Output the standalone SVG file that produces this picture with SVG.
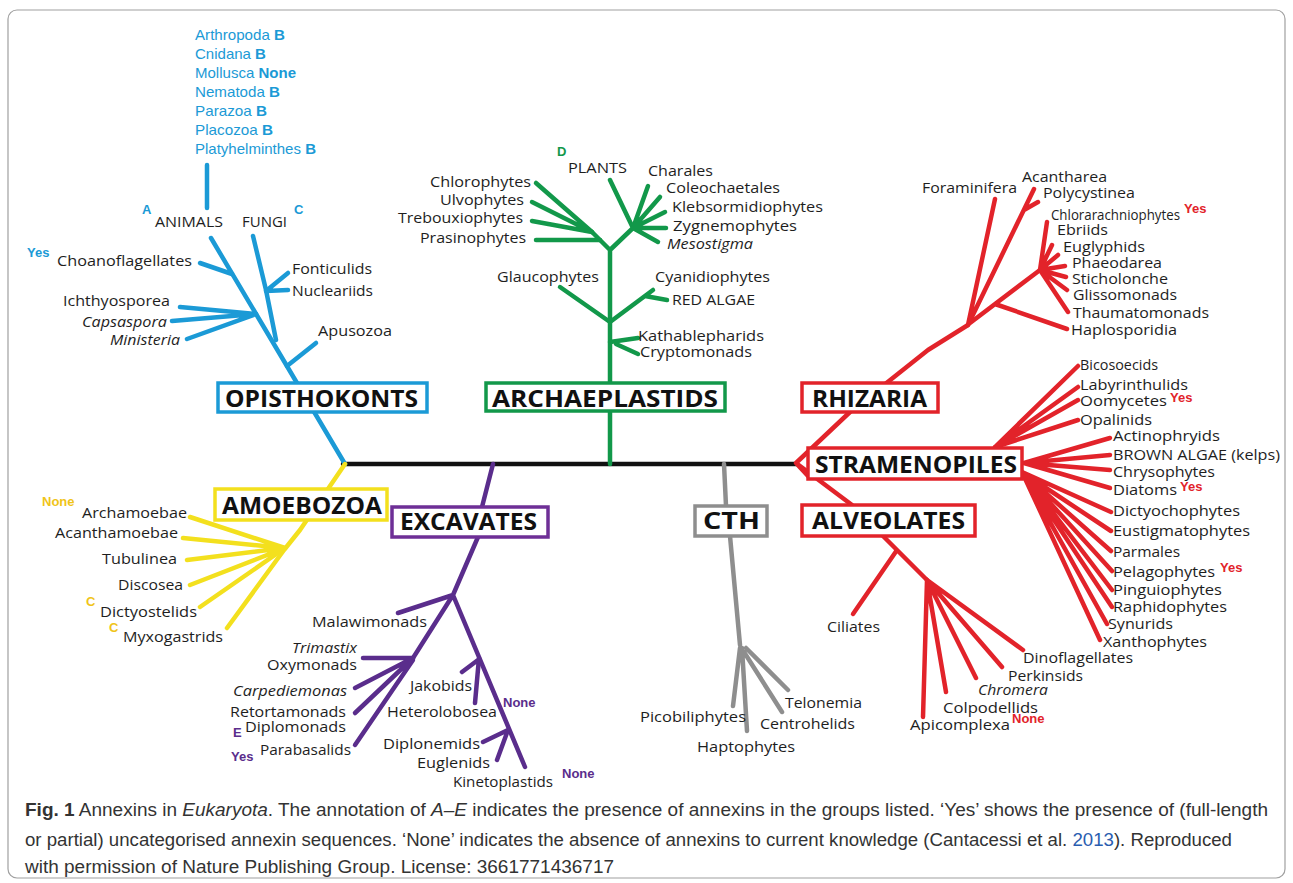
<svg xmlns="http://www.w3.org/2000/svg" width="1293" height="883" viewBox="0 0 1293 883">
<style>
.t{font-family:"Open Sans","Liberation Sans",sans-serif;font-size:14.5px;fill:#1e1e1e}
.i{font-style:italic}
.lst{font-family:"Liberation Sans",Arial,sans-serif;font-size:14.5px;fill:#1b9ad6}
.sup{font-family:"Liberation Sans",Arial,sans-serif;font-size:13px;font-weight:bold}
.bx{font-family:"Open Sans","Liberation Sans",sans-serif;font-size:24px;font-weight:700;fill:#111}
.box{fill:#fff;stroke-width:3.5}
.l{fill:none;stroke-width:4.5;stroke-linecap:round;stroke-linejoin:round}
.blue{stroke:#1b9ad6}.green{stroke:#12984a}.red{stroke:#e2232a}.yel{stroke:#f3e01e}.pur{stroke:#5a2d8c}.gry{stroke:#8e8e8e}.blk{stroke:#111}
.fb{fill:#1b9ad6}.fg{fill:#12984a}.fr{fill:#e2232a}.fy{fill:#f0c419}.fp{fill:#5a2d8c}
.cap{font-family:"Liberation Sans",Arial,sans-serif;font-size:17.5px;fill:#333}
</style>
<rect x="8" y="10" width="1277" height="868" rx="9" fill="#fff" stroke="#a0a0a0" stroke-width="1.2"/>

<g id="connectors">
  <path class="l blk" d="M343 464 H797"/>
  <path class="l blue" d="M207 165 V208"/>
  <path class="l blue" d="M211 238 L345 464"/>
  <path class="l blue" d="M253 236 L266 290 L276 340"/>
  <path class="l blue" d="M266 291 L288 273 M266 291 L288 290"/>
  <path class="l blue" d="M200 263 L232 274"/>
  <path class="l blue" d="M180 307 L256 314 M172 321 L256 314 M187 339 L256 314"/>
  <path class="l blue" d="M287 366 L316 343"/>
  <path class="l green" d="M610 464 V250 L592 232 M610 250 L633 228 L610 180"/>
  <path class="l green" d="M592 232 L536 183 M592 232 L532 202 M592 232 L532 221 M600 240 L536 240"/>
  <path class="l green" d="M633 228 L648 186 M633 228 L660 197 M633 228 L665 212 M633 228 L666 228 M633 228 L658 242"/>
  <path class="l green" d="M560 287 L610 322 L653 290 M645 296 L667 300"/>
  <path class="l green" d="M610 342 L638 338 M616 344 L638 354"/>
  <path class="l red" d="M796 463 L850 412 L928 350 L968 325 M796 463 L808 476 M796 463 L852 505"/>
  <path class="l red" d="M968 325 L995 199 M968 325 L1034 189 M1024 210 L1038 202"/>
  <path class="l red" d="M970 323 L1040 270 M995 304 L1067 329"/>
  <path class="l red" d="M1040 270 L1047 222 M1040 270 L1052 245 M1040 270 L1058 255 M1040 270 L1065 266 M1040 270 L1066 277 M1040 270 L1067 290 M1040 270 L1068 312"/>
  <path class="l red" d="M995 447 L1078 366 M995 447 L1078 387 M995 447 L1078 400 M995 447 L1078 420"/>
  <path class="l red" d="M1024 463 L1110 438 M1024 463 L1110 455 M1024 463 L1110 470 M1024 463 L1110 488"/>
  <path class="l red" d="M1022 472 L1111 512 M1022 472 L1111 531 M1022 472 L1111 551 M1022 472 L1112 571 M1022 472 L1112 590 M1022 472 L1112 607 M1022 472 L1107 624 M1022 472 L1100 640"/>
  <path class="l red" d="M883 536 L927 580 M897 550 L853 614"/>
  <path class="l red" d="M927 580 L923 717 M927 580 L946 692 M927 580 L976 678 M927 580 L1002 667 M927 580 L1023 650"/>
  <path class="l yel" d="M345 464 L300 530 L284 550 L227 628"/>
  <path class="l yel" d="M285 548 L190 517 M285 548 L183 538 M285 548 L187 560 M285 548 L190 585 M285 548 L200 607"/>
  <path class="l pur" d="M493 464 L482 507 M478 537 L453 595 L398 613 M453 595 L413 658 M453 595 L525 767"/>
  <path class="l pur" d="M413 658 L363 658 M413 658 L355 688 M413 658 L355 713 M413 660 L355 745"/>
  <path class="l pur" d="M479 658 L475 703 M478 660 L462 672 M508 730 L483 742 M508 730 L497 760"/>
  <path class="l gry" d="M724 464 L726 506 M730 536 L740 645"/>
  <path class="l gry" d="M740 648 L733 706 M742 648 L747 731 M744 652 L782 712 M746 648 L788 690"/>
</g>

<g id="animals-list">
  <text class="lst" x="195" y="40" textLength="90" lengthAdjust="spacingAndGlyphs">Arthropoda <tspan font-weight="bold">B</tspan></text>
  <text class="lst" x="195" y="59" textLength="71" lengthAdjust="spacingAndGlyphs">Cnidana <tspan font-weight="bold">B</tspan></text>
  <text class="lst" x="195" y="78" textLength="101" lengthAdjust="spacingAndGlyphs">Mollusca <tspan font-weight="bold">None</tspan></text>
  <text class="lst" x="195" y="97" textLength="85" lengthAdjust="spacingAndGlyphs">Nematoda <tspan font-weight="bold">B</tspan></text>
  <text class="lst" x="195" y="116" textLength="72" lengthAdjust="spacingAndGlyphs">Parazoa <tspan font-weight="bold">B</tspan></text>
  <text class="lst" x="195" y="135" textLength="78" lengthAdjust="spacingAndGlyphs">Placozoa <tspan font-weight="bold">B</tspan></text>
  <text class="lst" x="195" y="154" textLength="121" lengthAdjust="spacingAndGlyphs">Platyhelminthes <tspan font-weight="bold">B</tspan></text>
</g>

<g id="opisthokonts">
  <rect class="box blue" x="218" y="383" width="209" height="29"/>
  <text class="bx" x="225" y="407" textLength="193" lengthAdjust="spacingAndGlyphs">OPISTHOKONTS</text>
  <text class="sup fb" x="142" y="214" font-size="14">A</text>
  <text class="t" x="155" y="227" textLength="68" lengthAdjust="spacingAndGlyphs">ANIMALS</text>
  <text class="t" x="242" y="227" textLength="45" lengthAdjust="spacingAndGlyphs">FUNGI</text>
  <text class="sup fb" x="294" y="214" font-size="14">C</text>
  <text class="sup fb" x="27" y="257">Yes</text>
  <text class="t" x="57" y="266" textLength="135" lengthAdjust="spacingAndGlyphs">Choanoflagellates</text>
  <text class="t" x="292" y="274" textLength="80" lengthAdjust="spacingAndGlyphs">Fonticulids</text>
  <text class="t" x="292" y="296" textLength="81" lengthAdjust="spacingAndGlyphs">Nucleariids</text>
  <text class="t" x="63" y="306" textLength="107" lengthAdjust="spacingAndGlyphs">Ichthyosporea</text>
  <text class="t i" x="82" y="327" textLength="85" lengthAdjust="spacingAndGlyphs">Capsaspora</text>
  <text class="t i" x="110" y="345" textLength="70" lengthAdjust="spacingAndGlyphs">Ministeria</text>
  <text class="t" x="318" y="336" textLength="74" lengthAdjust="spacingAndGlyphs">Apusozoa</text>
</g>

<g id="archaeplastids">
  <rect class="box green" x="486" y="383" width="239" height="28"/>
  <text class="bx" x="492" y="407" textLength="226" lengthAdjust="spacingAndGlyphs">ARCHAEPLASTIDS</text>
  <text class="sup fg" x="557" y="156" font-size="14">D</text>
  <text class="t" x="568" y="173" textLength="59" lengthAdjust="spacingAndGlyphs">PLANTS</text>
  <text class="t" x="430" y="187" textLength="101" lengthAdjust="spacingAndGlyphs">Chlorophytes</text>
  <text class="t" x="440" y="205" textLength="84" lengthAdjust="spacingAndGlyphs">Ulvophytes</text>
  <text class="t" x="398" y="223" textLength="125" lengthAdjust="spacingAndGlyphs">Trebouxiophytes</text>
  <text class="t" x="420" y="243" textLength="106" lengthAdjust="spacingAndGlyphs">Prasinophytes</text>
  <text class="t" x="648" y="176" textLength="65" lengthAdjust="spacingAndGlyphs">Charales</text>
  <text class="t" x="666" y="193" textLength="114" lengthAdjust="spacingAndGlyphs">Coleochaetales</text>
  <text class="t" x="672" y="212" textLength="151" lengthAdjust="spacingAndGlyphs">Klebsormidiophytes</text>
  <text class="t" x="673" y="231" textLength="124" lengthAdjust="spacingAndGlyphs">Zygnemophytes</text>
  <text class="t i" x="667" y="249" textLength="86" lengthAdjust="spacingAndGlyphs">Mesostigma</text>
  <text class="t" x="497" y="282" textLength="102" lengthAdjust="spacingAndGlyphs">Glaucophytes</text>
  <text class="t" x="655" y="282" textLength="115" lengthAdjust="spacingAndGlyphs">Cyanidiophytes</text>
  <text class="t" x="672" y="305" textLength="83" lengthAdjust="spacingAndGlyphs">RED ALGAE</text>
  <text class="t" x="638" y="341" textLength="126" lengthAdjust="spacingAndGlyphs">Kathablepharids</text>
  <text class="t" x="640" y="357" textLength="112" lengthAdjust="spacingAndGlyphs">Cryptomonads</text>
</g>

<g id="rhizaria">
  <rect class="box red" x="802" y="383" width="136" height="29"/>
  <text class="bx" x="812" y="407" textLength="115" lengthAdjust="spacingAndGlyphs">RHIZARIA</text>
  <text class="t" x="922" y="193" textLength="95" lengthAdjust="spacingAndGlyphs">Foraminifera</text>
  <text class="t" x="1022" y="182" textLength="85" lengthAdjust="spacingAndGlyphs">Acantharea</text>
  <text class="t" x="1043" y="198" textLength="92" lengthAdjust="spacingAndGlyphs">Polycystinea</text>
  <text class="t" x="1051" y="220" textLength="129" lengthAdjust="spacingAndGlyphs">Chlorarachniophytes</text>
  <text class="sup fr" x="1184" y="213">Yes</text>
  <text class="t" x="1057" y="235" textLength="51" lengthAdjust="spacingAndGlyphs">Ebriids</text>
  <text class="t" x="1063" y="252" textLength="82" lengthAdjust="spacingAndGlyphs">Euglyphids</text>
  <text class="t" x="1072" y="268" textLength="90" lengthAdjust="spacingAndGlyphs">Phaeodarea</text>
  <text class="t" x="1072" y="284" textLength="96" lengthAdjust="spacingAndGlyphs">Sticholonche</text>
  <text class="t" x="1073" y="300" textLength="104" lengthAdjust="spacingAndGlyphs">Glissomonads</text>
  <text class="t" x="1073" y="318" textLength="136" lengthAdjust="spacingAndGlyphs">Thaumatomonads</text>
  <text class="t" x="1071" y="335" textLength="106" lengthAdjust="spacingAndGlyphs">Haplosporidia</text>
</g>

<g id="stramenopiles">
  <rect class="box red" x="808" y="448" width="214" height="31"/>
  <text class="bx" x="815" y="473" textLength="202" lengthAdjust="spacingAndGlyphs">STRAMENOPILES</text>
  <text class="t" x="1080" y="370" textLength="78" lengthAdjust="spacingAndGlyphs">Bicosoecids</text>
  <text class="t" x="1080" y="390" textLength="108" lengthAdjust="spacingAndGlyphs">Labyrinthulids</text>
  <text class="t" x="1080" y="406" textLength="87" lengthAdjust="spacingAndGlyphs">Oomycetes</text>
  <text class="sup fr" x="1170" y="402">Yes</text>
  <text class="t" x="1080" y="425" textLength="72" lengthAdjust="spacingAndGlyphs">Opalinids</text>
  <text class="t" x="1113" y="441" textLength="107" lengthAdjust="spacingAndGlyphs">Actinophryids</text>
  <text class="t" x="1113" y="460" textLength="167" lengthAdjust="spacingAndGlyphs">BROWN ALGAE (kelps)</text>
  <text class="t" x="1113" y="477" textLength="102" lengthAdjust="spacingAndGlyphs">Chrysophytes</text>
  <text class="t" x="1113" y="495" textLength="64" lengthAdjust="spacingAndGlyphs">Diatoms</text>
  <text class="sup fr" x="1180" y="491">Yes</text>
  <text class="t" x="1113" y="516" textLength="127" lengthAdjust="spacingAndGlyphs">Dictyochophytes</text>
  <text class="t" x="1113" y="536" textLength="137" lengthAdjust="spacingAndGlyphs">Eustigmatophytes</text>
  <text class="t" x="1113" y="557" textLength="67" lengthAdjust="spacingAndGlyphs">Parmales</text>
  <text class="t" x="1113" y="577" textLength="102" lengthAdjust="spacingAndGlyphs">Pelagophytes</text>
  <text class="sup fr" x="1220" y="572">Yes</text>
  <text class="t" x="1113" y="595" textLength="109" lengthAdjust="spacingAndGlyphs">Pinguiophytes</text>
  <text class="t" x="1113" y="612" textLength="114" lengthAdjust="spacingAndGlyphs">Raphidophytes</text>
  <text class="t" x="1108" y="629" textLength="65" lengthAdjust="spacingAndGlyphs">Synurids</text>
  <text class="t" x="1103" y="647" textLength="104" lengthAdjust="spacingAndGlyphs">Xanthophytes</text>
</g>

<g id="alveolates">
  <rect class="box red" x="802" y="505" width="173" height="31"/>
  <text class="bx" x="812" y="529" textLength="153" lengthAdjust="spacingAndGlyphs">ALVEOLATES</text>
  <text class="t" x="827" y="632" textLength="53" lengthAdjust="spacingAndGlyphs">Ciliates</text>
  <text class="t" x="1023" y="663" textLength="110" lengthAdjust="spacingAndGlyphs">Dinoflagellates</text>
  <text class="t" x="1008" y="681" textLength="75" lengthAdjust="spacingAndGlyphs">Perkinsids</text>
  <text class="t i" x="978" y="695" textLength="70" lengthAdjust="spacingAndGlyphs">Chromera</text>
  <text class="t" x="943" y="713" textLength="95" lengthAdjust="spacingAndGlyphs">Colpodellids</text>
  <text class="t" x="910" y="730" textLength="100" lengthAdjust="spacingAndGlyphs">Apicomplexa</text>
  <text class="sup fr" x="1012" y="723">None</text>
</g>

<g id="cth">
  <rect class="box gry" x="695" y="506" width="72" height="30"/>
  <text class="bx" x="703" y="529" textLength="57" lengthAdjust="spacingAndGlyphs">CTH</text>
  <text class="t" x="640" y="722" textLength="106" lengthAdjust="spacingAndGlyphs">Picobiliphytes</text>
  <text class="t" x="697" y="752" textLength="98" lengthAdjust="spacingAndGlyphs">Haptophytes</text>
  <text class="t" x="760" y="729" textLength="95" lengthAdjust="spacingAndGlyphs">Centrohelids</text>
  <text class="t" x="785" y="708" textLength="77" lengthAdjust="spacingAndGlyphs">Telonemia</text>
</g>

<g id="amoebozoa">
  <rect class="box yel" x="215" y="489" width="172" height="31"/>
  <text class="bx" x="222" y="514" textLength="160" lengthAdjust="spacingAndGlyphs">AMOEBOZOA</text>
  <text class="sup fy" x="42" y="506">None</text>
  <text class="t" x="82" y="518" textLength="105" lengthAdjust="spacingAndGlyphs">Archamoebae</text>
  <text class="t" x="55" y="538" textLength="123" lengthAdjust="spacingAndGlyphs">Acanthamoebae</text>
  <text class="t" x="102" y="564" textLength="75" lengthAdjust="spacingAndGlyphs">Tubulinea</text>
  <text class="t" x="118" y="590" textLength="65" lengthAdjust="spacingAndGlyphs">Discosea</text>
  <text class="sup fy" x="86" y="606">C</text>
  <text class="t" x="100" y="617" textLength="97" lengthAdjust="spacingAndGlyphs">Dictyostelids</text>
  <text class="sup fy" x="109" y="632">C</text>
  <text class="t" x="123" y="642" textLength="100" lengthAdjust="spacingAndGlyphs">Myxogastrids</text>
</g>

<g id="excavates">
  <rect class="box pur" x="392" y="507" width="156" height="30" style="stroke:#6e2f96"/>
  <text class="bx" x="400" y="530" textLength="137" lengthAdjust="spacingAndGlyphs">EXCAVATES</text>
  <text class="t" x="312" y="627" textLength="115" lengthAdjust="spacingAndGlyphs">Malawimonads</text>
  <text class="t i" x="292" y="653" textLength="65" lengthAdjust="spacingAndGlyphs">Trimastix</text>
  <text class="t" x="267" y="670" textLength="90" lengthAdjust="spacingAndGlyphs">Oxymonads</text>
  <text class="t i" x="233" y="696" textLength="114" lengthAdjust="spacingAndGlyphs">Carpediemonas</text>
  <text class="t" x="230" y="717" textLength="116" lengthAdjust="spacingAndGlyphs">Retortamonads</text>
  <text class="sup fp" x="233" y="737">E</text>
  <text class="t" x="245" y="732" textLength="101" lengthAdjust="spacingAndGlyphs">Diplomonads</text>
  <text class="sup fp" x="231" y="761">Yes</text>
  <text class="t" x="260" y="755" textLength="91" lengthAdjust="spacingAndGlyphs">Parabasalids</text>
  <text class="t" x="410" y="691" textLength="62" lengthAdjust="spacingAndGlyphs">Jakobids</text>
  <text class="t" x="387" y="717" textLength="110" lengthAdjust="spacingAndGlyphs">Heterolobosea</text>
  <text class="sup fp" x="503" y="707">None</text>
  <text class="t" x="383" y="749" textLength="97" lengthAdjust="spacingAndGlyphs">Diplonemids</text>
  <text class="t" x="417" y="768" textLength="73" lengthAdjust="spacingAndGlyphs">Euglenids</text>
  <text class="t" x="453" y="787" textLength="100" lengthAdjust="spacingAndGlyphs">Kinetoplastids</text>
  <text class="sup fp" x="562" y="778">None</text>
</g>

<g id="caption">
  <text class="cap" x="25" y="816" textLength="1243" lengthAdjust="spacingAndGlyphs"><tspan font-weight="bold">Fig. 1</tspan>  Annexins in <tspan font-style="italic">Eukaryota</tspan>. The annotation of <tspan font-style="italic">A–E</tspan> indicates the presence of annexins in the groups listed. ‘Yes’ shows the presence of (full-length</text>
  <text class="cap" x="25" y="846" textLength="1207" lengthAdjust="spacingAndGlyphs">or partial) uncategorised annexin sequences. ‘None’ indicates the absence of annexins to current knowledge (Cantacessi et al. <tspan fill="#2a5db0">2013</tspan>). Reproduced</text>
  <text class="cap" x="25" y="873" textLength="589" lengthAdjust="spacingAndGlyphs">with permission of Nature Publishing Group. License: 3661771436717</text>
</g>
</svg>
